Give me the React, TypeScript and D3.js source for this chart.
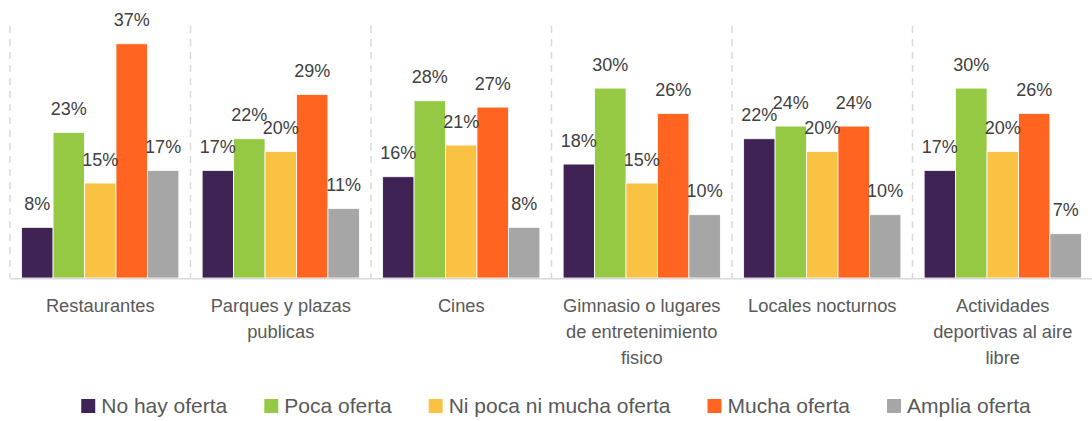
import React from "react";
import * as d3 from "d3";

const categories: string[][] = [
  ["Restaurantes"],
  ["Parques y plazas", "publicas"],
  ["Cines"],
  ["Gimnasio o lugares", "de entretenimiento", "fisico"],
  ["Locales nocturnos"],
  ["Actividades", "deportivas al aire", "libre"],
];
const seriesNames = ["No hay oferta", "Poca oferta", "Ni poca ni mucha oferta", "Mucha oferta", "Amplia oferta"];
const seriesColors = ["#3F2355", "#95C943", "#F9C243", "#FF6420", "#A6A6A6"];
const noHay = [8, 17, 16, 18, 22, 17];
const poca = [23, 22, 28, 30, 24, 30];
const niPoca = [15, 20, 21, 15, 20, 20];
const mucha = [37, 29, 27, 26, 24, 26];
const amplia = [17, 11, 8, 10, 10, 7];
const seriesValues = [noHay, poca, niPoca, mucha, amplia];

const W = 1092;
const H = 421;
const FONT = "'Liberation Sans', Arial, sans-serif";

function measure(text: string, size: number): number {
  const c = document.createElement("canvas").getContext("2d");
  if (!c) return text.length * size * 0.5;
  c.font = `${size}px ${FONT}`;
  return c.measureText(text).width;
}

export default function App() {
  React.useEffect(() => {
    document.body.style.margin = "0";
  }, []);

  const catKeys = categories.map((c) => c.join(" "));
  const x0 = d3.scaleBand<string>().domain(catKeys).range([10, 1093]).paddingInner(0).paddingOuter(0);
  const x1 = d3
    .scaleBand<string>()
    .domain(seriesNames)
    .range([0, x0.bandwidth()])
    .paddingInner(0)
    .paddingOuter(0.37);
  const baseline = 278;
  const y = d3.scaleLinear().domain([0, 40]).range([baseline, baseline - 253.2]);

  const legendSize = 21;
  const marker = 14;
  const gapMT = 6;
  const gapItems = 37;
  const widths = seriesNames.map((n) => measure(n, legendSize));
  const total = widths.reduce((a, w) => a + marker + gapMT + w, 0) + gapItems * (seriesNames.length - 1);
  let lx = 556 - total / 2;
  const legendItems = seriesNames.map((n, i) => {
    const item = { name: n, x: lx, color: seriesColors[i] };
    lx += marker + gapMT + widths[i] + gapItems;
    return item;
  });

  const seps = d3.range(categories.length).map((i) => x0(catKeys[i]) as number);

  return (
    <svg width={W} height={H} style={{ display: "block" }} fontFamily={FONT}>
      <rect width={W} height={H} fill="#fff" />
      {seps.map((sx, i) => (
        <line
          key={"s" + i}
          x1={sx}
          x2={sx}
          y1={26}
          y2={baseline}
          stroke="#D9D9D9"
          strokeWidth={1.5}
          strokeDasharray="7,6"
        />
      ))}
      {catKeys.map((ck, ci) => (
        <g key={ck} transform={`translate(${x0(ck)},0)`}>
          {seriesNames.map((sn, si) => {
            const v = seriesValues[si][ci];
            const bx = x1(sn) as number;
            return (
              <rect
                key={sn}
                x={bx}
                y={y(v)}
                width={x1.bandwidth()}
                height={baseline - y(v)}
                fill={seriesColors[si]}
                stroke="#fff"
                strokeWidth={0.8}
              />
            );
          })}
          {seriesNames.map((sn, si) => {
            const v = seriesValues[si][ci];
            const bx = (x1(sn) as number) + x1.bandwidth() / 2;
            return (
              <text
                key={"l" + sn}
                x={bx}
                y={y(v) - 17.5}
                textAnchor="middle"
                fontSize={18}
                fill="#404040"
              >
                {v}%
              </text>
            );
          })}
        </g>
      ))}
      <line x1={10} x2={W} y1={baseline + 0.8} y2={baseline + 0.8} stroke="#D9D9D9" strokeWidth={1.6} />
      {categories.map((lines, ci) => (
        <text
          key={"c" + ci}
          x={(x0(catKeys[ci]) as number) + x0.bandwidth() / 2}
          textAnchor="middle"
          fontSize={18.3}
          fill="#595959"
        >
          {lines.map((ln, li) => (
            <tspan key={li} x={(x0(catKeys[ci]) as number) + x0.bandwidth() / 2} y={311.5 + li * 26}>
              {ln}
            </tspan>
          ))}
        </text>
      ))}
      {legendItems.map((it) => (
        <g key={it.name}>
          <rect x={it.x} y={399} width={marker} height={marker} fill={it.color} />
          <text x={it.x + marker + gapMT} y={413} fontSize={legendSize} fill="#595959">
            {it.name}
          </text>
        </g>
      ))}
    </svg>
  );
}
